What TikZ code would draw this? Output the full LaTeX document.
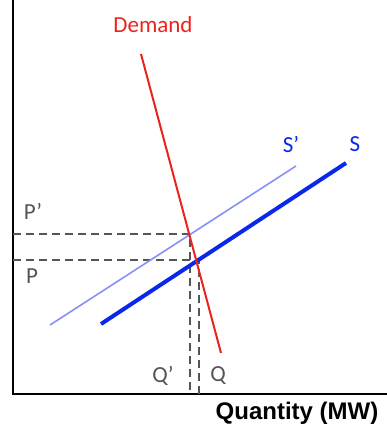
\documentclass[tikz,border=0pt]{standalone}
\usepackage{fontspec}
\setmainfont{Carlito}
\newfontfamily\arialfont{Liberation Sans}
\usepackage{xcolor}
\definecolor{demandred}{RGB}{235,35,30}
\definecolor{supplyblue}{RGB}{10,40,235}
\definecolor{shiftblue}{RGB}{135,145,245}
\definecolor{dashgray}{RGB}{85,85,85}

\begin{document}
\begin{tikzpicture}[x=1pt, y=-1pt,
    axis/.style={line width=2.5pt, black},
    guide/.style={dash pattern=on 8pt off 5pt, line width=2.2pt, dashgray},
    lbl/.style={inner sep=0pt, font=\fontsize{23}{26}\selectfont},
    curvelbl/.style={lbl, text=supplyblue}
]
\useasboundingbox (0,0) rectangle (387,432);

% Axes
\coordinate (ytop) at (13,0);
\coordinate (origin) at (13,394);
\coordinate (xend) at (387,394);
\draw[axis] (ytop) -- (origin) -- (xend);
\node[inner sep=0pt, font=\arialfont\bfseries\fontsize{24}{26}\selectfont] (xlbl) at (297,413) {Quantity (MW)};

% Price and quantity guides
\coordinate (ppaxis) at (13,234);
\coordinate (paxis) at (13,260);
\coordinate (eqprime) at (190,234);
\coordinate (eq) at (199,260);
\coordinate (qpaxis) at (190,394);
\coordinate (qaxis) at (199,394);
\draw[guide] (ppaxis) -- (eqprime) -- (qpaxis);
\draw[guide] (paxis) -- (eq) -- (qaxis);

% Supply curves
\coordinate (spA) at (50,325);
\coordinate (spB) at (296,166);
\draw[line width=1.6pt, shiftblue] (spA) -- (spB);
\coordinate (sA) at (101,324);
\coordinate (sB) at (346,163);
\draw[line width=4pt, supplyblue] (sA) -- (sB);

% Demand curve
\coordinate (dA) at (141,54);
\coordinate (dB) at (221,353);
\draw[line width=2pt, demandred] (dA) -- (dB);

% Labels
\node[lbl, text=demandred] (demandlbl) at (153,25) {Demand};
\node[curvelbl] (sprimelbl) at (291,144) {S’};
\node[curvelbl] (slbl) at (355,144) {S};
\node[lbl, text=dashgray] (pprimelbl) at (33,211) {P’};
\node[lbl, text=dashgray] (plbl) at (32,276) {P};
\node[lbl, text=dashgray] (qprimelbl) at (163,376) {Q’};
\node[lbl, text=dashgray] (qlbl) at (218,376) {Q};

\end{tikzpicture}
\end{document}
